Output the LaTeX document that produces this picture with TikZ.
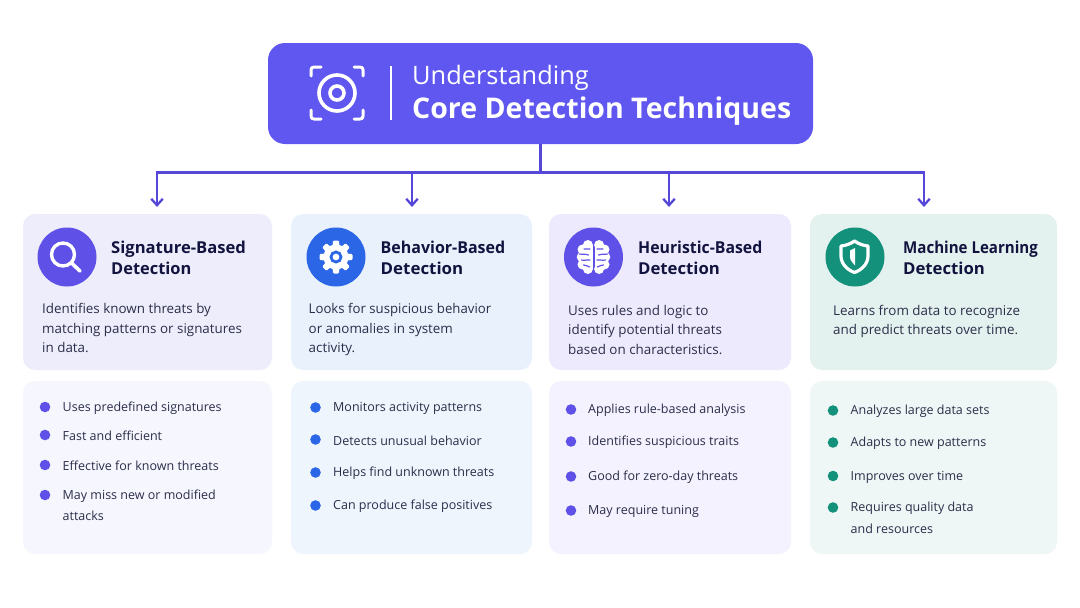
\documentclass[tikz,border=0pt]{standalone}
\usepackage{fontspec}
\setmainfont{Open Sans}
\usetikzlibrary{arrows.meta}
\definecolor{ink}{HTML}{12143F}
\definecolor{body}{HTML}{2B2E4A}
\definecolor{hdr}{HTML}{5F57F0}
\definecolor{pur}{HTML}{5F50E8}
\definecolor{blu}{HTML}{2B66E6}
\definecolor{tea}{HTML}{14917A}
\definecolor{line}{HTML}{5548D9}
\definecolor{ca}{HTML}{EEEDFB}
\definecolor{cb}{HTML}{E8F1FC}
\definecolor{cc}{HTML}{EEEAFD}
\definecolor{cd}{HTML}{E4F2EF}
\definecolor{la}{HTML}{F6F6FE}
\definecolor{lb}{HTML}{EEF5FD}
\definecolor{lc}{HTML}{F4F2FE}
\definecolor{ld}{HTML}{EEF7F5}
\tikzset{
 x=1pt,y=-1pt,
 card/.style={rounded corners=12pt,inner sep=0pt,outer sep=0pt},
 ttl/.style={anchor=west,align=left,text=ink,font=\fontsize{16.4}{21}\selectfont\bfseries,inner sep=0pt},
 dsc/.style={anchor=west,align=left,text=body,font=\fontsize{13.4}{19.6}\selectfont,inner sep=0pt},
 itm/.style={anchor=west,align=left,text=body,font=\fontsize{12.5}{20}\selectfont,inner sep=0pt,yshift=-1.2pt},
 dot/.style={circle,minimum size=10.6pt,inner sep=0pt},
 ico/.style={circle,minimum size=59pt,inner sep=0pt},
 conn/.style={draw=line,line width=2.6pt},
 arr/.style={conn,-{Straight Barb[length=6.5pt,width=11.5pt,line width=2.3pt]}},
 wl/.style={draw=white,line width=3pt,line cap=round,line join=round}
}
\newcommand{\cardbox}[6]{\node[card,fill=#6,minimum width=#3pt-#2pt,minimum height=#5pt-#4pt] (#1) at ({(#2+#3)/2},{(#4+#5)/2}) {};}
\begin{document}
\begin{tikzpicture}
\useasboundingbox (0,0) rectangle (1080,608);
\fill[white] (0,0) rectangle (1080,608);
% connectors
\node[card,rounded corners=17pt,fill=hdr,minimum width=545pt,minimum height=101pt] (hd) at (540.5,93.5) {};
\draw[white,line width=1.3pt] (391,66) -- (391,120);
\node[anchor=base west,inner sep=0pt,text=white,font=\fontsize{25.4}{30}\selectfont] (h1) at (412,84) {Understanding};
\node[anchor=base west,inner sep=0pt,text=white,font=\fontsize{28.5}{32}\selectfont\bfseries] (h2) at (412,118) {Core Detection Techniques};
% target icon
\draw[wl] (311,76) -- (311,70) .. controls (311,68) and (312,67) .. (314,67) -- (321,67);
\draw[wl] (354,67) -- (360,67) .. controls (362,67) and (363,68) .. (363,70) -- (363,76);
\draw[wl] (311,110) -- (311,116) .. controls (311,118) and (312,119) .. (314,119) -- (321,119);
\draw[wl] (354,119) -- (360,119) .. controls (362,119) and (363,118) .. (363,116) -- (363,110);
\draw[white,line width=3.6pt] (337,93) circle (18pt);
\draw[white,line width=3.6pt] (337,93) circle (7pt);
% connectors
\coordinate (j) at (540.5,172.5);
\coordinate (t1) at (157,207);
\coordinate (t2) at (412,207);
\coordinate (t3) at (669,207);
\coordinate (t4) at (924,207);
\draw[conn] (hd.south) -- (j);
\draw[arr] (j) -| (t1);
\draw[arr] (j) -| (t2);
\draw[arr] (j) -| (t3);
\draw[arr] (j) -| (t4);
% cards
\cardbox{a}{23}{272}{214}{370}{ca}
\cardbox{b}{291}{532}{214}{370}{cb}
\cardbox{c}{549}{791}{214}{370}{cc}
\cardbox{d}{810}{1057}{214}{370}{cd}
\cardbox{la1}{23}{272}{381}{554}{la}
\cardbox{lb1}{291}{532}{381}{554}{lb}
\cardbox{lc1}{549}{791}{381}{554}{lc}
\cardbox{ld1}{810}{1057}{381}{554}{ld}
% icon circles
\node[ico,fill=pur] (ia) at (67,257) {};
\node[ico,fill=blu] (ib) at (336,257) {};
\node[ico,fill=pur] (ic) at (593.5,257) {};
\node[ico,fill=tea] (id) at (855,257) {};
% magnifier
\draw[white,line width=3.4pt] (63,254.5) circle (11.5pt);
\draw[wl,line width=3.6pt] (71.5,263) -- (80,271);
% gear
\begin{scope}[shift={(336,257)}]
\fill[white] (0,0) circle (12.5pt);
\foreach \a in {0,45,...,315}{\fill[white,rotate=\a,rounded corners=1pt] (-3.6,-10) -- (-2.9,-16.5) -- (2.9,-16.5) -- (3.6,-10) -- cycle;}
\draw[blu,line width=2.8pt] (0,0) circle (5pt);
\end{scope}
% brain
\begin{scope}[shift={(593.5,257)}]
\foreach \s in {1,-1}{
\begin{scope}[xscale=\s]
\fill[white] (5.6,-12) circle (5pt) (11,-7.5) circle (5pt) (12,0) circle (4.8pt) (11,7.5) circle (5pt) (5.6,12) circle (5pt);
\fill[white] (1,-12) rectangle (10,12);
\draw[pur,line width=1.2pt,line cap=round] (3.4,-8) .. controls (6,-9) and (7,-7) .. (9.5,-8);
\draw[pur,line width=1.2pt,line cap=round] (14,-3) .. controls (10,-2) and (8,-4) .. (5,-2);
\draw[pur,line width=1.2pt,line cap=round] (3.4,3) .. controls (6,2) and (8,4) .. (12,3);
\draw[pur,line width=1.2pt,line cap=round] (4,10) .. controls (6,8) and (8,9) .. (10,8);
\end{scope}}
\end{scope}
% shield
\begin{scope}[shift={(854.5,257)}]
\draw[white,line width=3.2pt,line join=round] (0,-16) .. controls (4,-13) and (9,-11.5) .. (13.5,-11) -- (13.5,-1) .. controls (13.5,7) and (7,13) .. (0,15.5) .. controls (-7,13) and (-13.5,7) .. (-13.5,-1) -- (-13.5,-11) .. controls (-9,-11.5) and (-4,-13) .. cycle;
\fill[white] (0.5,-9) -- (-4.5,-6.5) -- (-4.5,0) .. controls (-4.5,3) and (-2,6) .. (0.5,8.5) -- cycle;
\end{scope}
% titles
\node[ttl] (ta) at (111,257.5) {\scalebox{1.012}[1]{Signature-Based}\\Detection};
\node[ttl] (tb) at (380.5,257.5) {\scalebox{0.975}[1]{Behavior-Based}\\\scalebox{1.03}[1]{Detection}};
\node[ttl] (tc) at (638,257.5) {\scalebox{0.965}[1]{Heuristic-Based}\\\scalebox{1.02}[1]{Detection}};
\node[ttl] (td) at (903,257.5) {\scalebox{0.92}[1]{Machine Learning}\\\scalebox{1.02}[1]{Detection}};
% descriptions
\node[dsc] (da) at (42,328) {Identifies known threats by\\matching patterns or signatures\\in data.};
\node[dsc] (db) at (308.5,329.5) {\scalebox{0.985}[1]{Looks for suspicious behavior}\\or anomalies in system\\activity.};
\node[dsc] (dc) at (568,330) {Uses rules and logic to\\identify potential threats\\based on characteristics.};
\node[dsc] (dd) at (833,321.5) {Learns from data to recognize\\and predict threats over time.};
% lists
\foreach \n/\y/\t in {1/407/Uses predefined signatures,2/435/Fast and efficient,3/465/Effective for known threats,4/495/May miss new or modified}{
 \node[dot,fill=pur] (ad\n) at (45,\y) {};
 \node[itm] (ai\n) at (62.5,\y) {\t};}
\node[itm] (ai5) at (62.5,515) {attacks};
\foreach \n/\y/\t in {1/407.5/Monitors activity patterns,2/439.5/Detects unusual behavior,3/472.5/Helps find unknown threats,4/505.5/Can produce false positives}{
 \node[dot,fill=blu] (bd\n) at (315.5,\y) {};
 \node[itm] (bi\n) at (333,\y) {\t};}
\foreach \n/\y/\t in {1/409.5/Applies rule-based analysis,2/441.5/Identifies suspicious traits,3/476.5/Good for zero-day threats,4/510.5/May require tuning}{
 \node[dot,fill=pur] (cd\n) at (571,\y) {};
 \node[itm] (ci\n) at (588,\y) {\t};}
\foreach \n/\y/\t in {1/410.5/Analyzes large data sets,2/442.5/Adapts to new patterns,3/476/Improves over time,4/507.5/Requires quality data}{
 \node[dot,fill=tea] (dd\n) at (833,\y) {};
 \node[itm] (di\n) at (850.5,\y) {\t};}
\node[itm] (di5) at (850.5,527.5) {and resources};
\end{tikzpicture}
\end{document}
